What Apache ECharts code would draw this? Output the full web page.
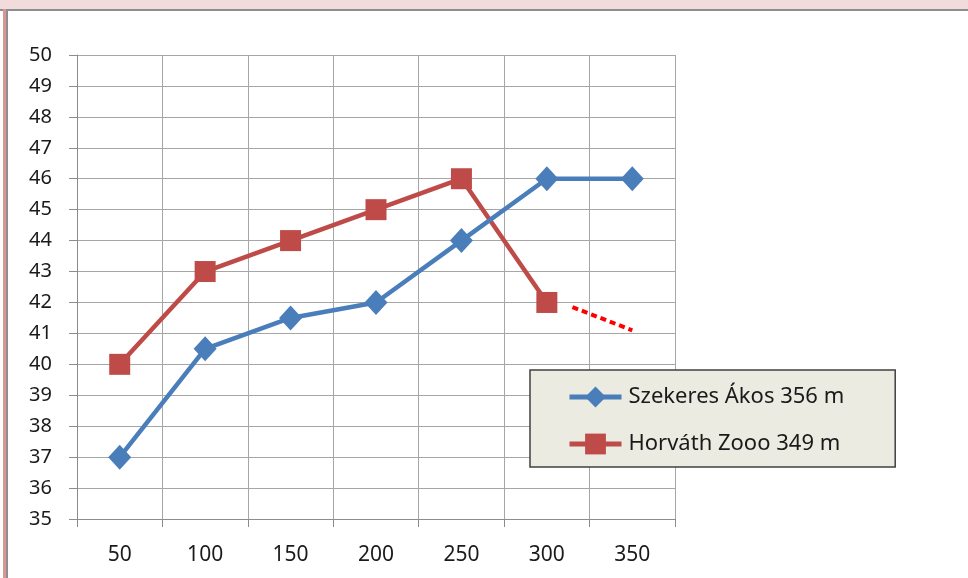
<!DOCTYPE html>
<html>
<head>
<meta charset="utf-8">
<script src="https://cdn.jsdelivr.net/npm/echarts@6/dist/echarts.min.js"></script>
<style>
html,body{margin:0;padding:0;background:#fff;}
#c{width:968px;height:578px;}
</style>
</head>
<body>
<div id="c"></div>
<script>
var categories = ['50','100','150','200','250','300','350'];
var seriesNames = ['Szekeres Ákos 356 m', 'Horváth Zooo 349 m'];
var szekeres = [37, 40.5, 41.5, 42, 44, 46, 46];
var horvath = [40, 43, 44, 45, 46, 42, null];
var trendX = [315, 350];
var trendY = [41.85, 41.1];

var font = 'Noto Sans';
var chart = echarts.init(document.getElementById('c'), null, {renderer: 'canvas'});
var trendData = trendX.map(function (x, i) { return [x, trendY[i]]; });

chart.setOption({
  animation: false,
  backgroundColor: '#ffffff',
  graphic: [
    {type: 'rect', shape: {x: 0, y: 0, width: 968, height: 10}, style: {fill: '#f2dcdb'}, z: -1},
    {type: 'rect', shape: {x: 0, y: 9, width: 968, height: 2}, style: {fill: '#8e8e8e'}, z: -1},
    {type: 'rect', shape: {x: 3, y: 9, width: 3, height: 569}, style: {fill: '#d99694'}, z: -1},
    {type: 'rect', shape: {x: 6, y: 9, width: 2, height: 569}, style: {fill: '#8e8e8e'}, z: -1}
  ],
  grid: {left: 77, top: 55, right: 293, bottom: 59, containLabel: false},
  legend: {
    data: seriesNames,
    orient: 'vertical',
    left: 530,
    top: 370,
    backgroundColor: '#ecebe1',
    borderColor: '#404040',
    borderWidth: 1.5,
    borderRadius: 0,
    padding: [16, 51, 12, 37],
    itemWidth: 52,
    itemHeight: 26,
    itemGap: 25,
    lineStyle: {width: 5},
    textStyle: {fontFamily: font, fontSize: 22, color: '#1a1a1a', padding: [0, 0, 0, 2]}
  },
  xAxis: [{
    type: 'category',
    data: categories,
    boundaryGap: true,
    axisLine: {lineStyle: {color: '#8c8c8c', width: 1}},
    axisTick: {show: true, length: 8, lineStyle: {color: '#8c8c8c'}},
    axisLabel: {fontFamily: font, fontSize: 21, color: '#1a1a1a', margin: 26},
    splitLine: {show: true, lineStyle: {color: '#a6a6a6', width: 1}}
  }, {
    type: 'value',
    min: 25,
    max: 375,
    show: false
  }],
  yAxis: {
    type: 'value',
    min: 35,
    max: 50,
    interval: 1,
    axisLine: {show: true, lineStyle: {color: '#8c8c8c', width: 1}},
    axisTick: {show: true, length: 8, lineStyle: {color: '#8c8c8c'}},
    axisLabel: {fontFamily: font, fontSize: 20, color: '#1a1a1a', margin: 25},
    splitLine: {show: true, lineStyle: {color: '#a6a6a6', width: 1}}
  },
  series: [{
    name: seriesNames[0],
    type: 'line',
    data: szekeres,
    symbol: 'diamond',
    symbolSize: [23, 25],
    lineStyle: {color: '#4a7ebb', width: 4.5},
    itemStyle: {color: '#4a7ebb'},
    z: 3
  }, {
    name: seriesNames[1],
    type: 'line',
    data: horvath,
    symbol: 'rect',
    symbolSize: 21,
    lineStyle: {color: '#be4b48', width: 4.5},
    itemStyle: {color: '#be4b48'},
    z: 2
  }, {
    name: 'trend',
    type: 'line',
    xAxisIndex: 1,
    data: trendData,
    symbol: 'none',
    lineStyle: {color: '#ff0000', width: 4, type: [6, 4]},
    z: 1
  }]
});
</script>
</body>
</html>
